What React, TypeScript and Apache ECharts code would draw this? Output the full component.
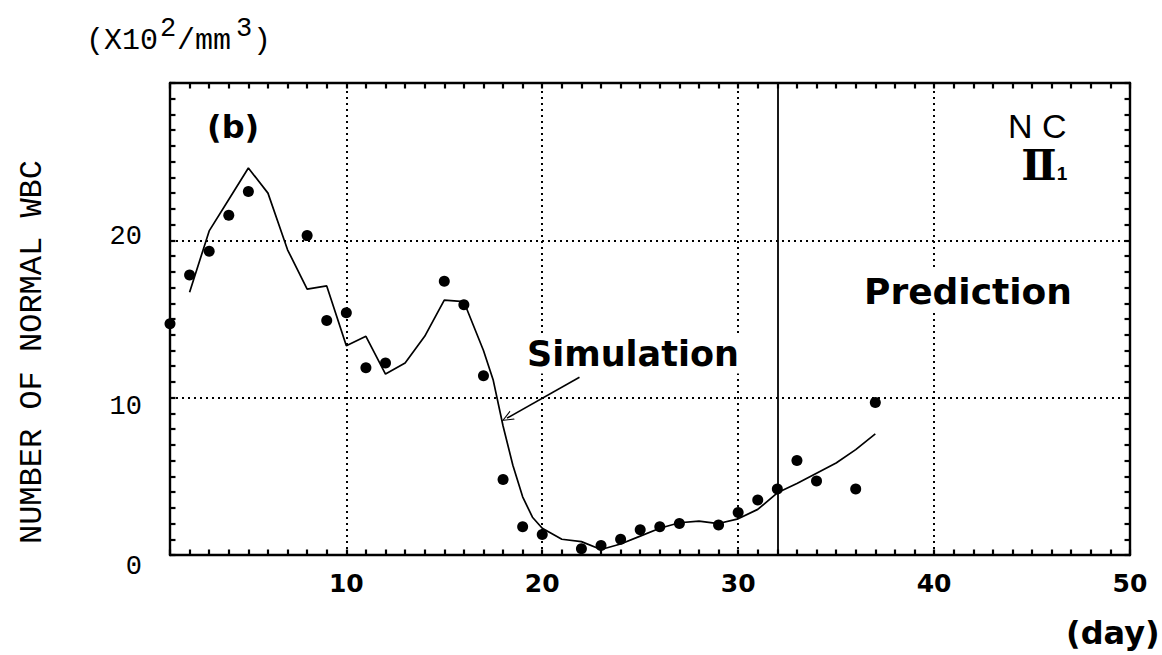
import React, { useEffect, useRef } from "react";
import * as echarts from "echarts";

// Observed counts of normal WBC (x10^2 / mm^3) by day
const obsDays = [1, 2, 3, 4, 5, 8, 9, 10, 11, 12, 15, 16, 17, 18, 19, 20, 22, 23, 24, 25, 26, 27, 29, 30, 31, 32, 33, 34, 36, 37];
const obsWbc = [14.7, 17.8, 19.3, 21.6, 23.1, 20.3, 14.9, 15.4, 11.9, 12.2, 17.4, 15.9, 11.4, 4.8, 1.8, 1.3, 0.4, 0.6, 1.0, 1.6, 1.8, 2.0, 1.9, 2.7, 3.5, 4.2, 6.0, 4.7, 4.2, 9.7];

// Simulated curve
const simDays = [2, 3, 4, 5, 6, 7, 8, 9, 10, 11, 12, 13, 14, 15, 16, 17, 17.5, 18, 18.5, 19, 19.5, 20, 21, 22, 23, 24, 25, 26, 27, 28, 29, 30, 31, 32, 33, 34, 35, 36, 37];
const simWbc = [16.7, 20.6, 22.6, 24.6, 23.0, 19.4, 16.9, 17.1, 13.3, 13.9, 11.5, 12.2, 13.9, 16.2, 16.1, 13.0, 11.1, 8.2, 5.7, 3.7, 2.4, 1.7, 1.0, 0.85, 0.35, 0.7, 1.2, 1.7, 2.05, 2.15, 2.0, 2.3, 2.9, 3.95, 4.55, 5.2, 5.85, 6.7, 7.7];

// Axes
const dayMin = 1;
const dayMax = 50;
const wbcMin = 0;
const wbcMax = 30;
const xTickLabels = [10, 20, 30, 40, 50];
const yTickLabels = [0, 10, 20];
const gridDays = [10, 20, 30, 40];
const gridLevels = [10, 20];
const predictionStart = 32;

// Arrow from the "Simulation" caption to the curve: [day, value]
const arrowFrom = [21.9, 11.3];
const arrowTo = [18.2, 8.7];

// Small inward ticks on all four sides: one per day and one per unit
const dayTicks: number[] = [];
for (let d = dayMin; d <= dayMax; d++) dayTicks.push(d);
const wbcTicks: number[] = [];
for (let v = wbcMin; v <= wbcMax; v++) wbcTicks.push(v);
const DAY_TICK_LEN = 0.35; // in value units (vertical ticks)
const WBC_TICK_LEN = 0.28; // in days (horizontal ticks)

const chevron = "path://M0,12 L5,0 L10,12 L8.8,12 L5,2.6 L1.2,12 Z";

export default function App() {
  const ref = useRef<HTMLDivElement>(null);

  useEffect(() => {
    if (!ref.current) return;
    const chart = echarts.init(ref.current, undefined, { renderer: "svg" });

    const frame = { show: true, onZero: false, lineStyle: { color: "#000", width: 2.4 } };
    const onlyListed = (list: number[]) => (v: number) => (list.indexOf(Math.round(v)) >= 0 ? String(Math.round(v)) : "");
    const yFont = { fontFamily: "Liberation Mono", fontSize: 27, color: "#000" };
    const seg = (a: number[], b: number[]) => [{ coord: a }, { coord: b }];

    const tickSegments = [
      ...dayTicks.map((d) => seg([d, wbcMin], [d, wbcMin + DAY_TICK_LEN])),
      ...dayTicks.map((d) => seg([d, wbcMax], [d, wbcMax - DAY_TICK_LEN])),
      ...wbcTicks.map((v) => seg([dayMin, v], [dayMin + WBC_TICK_LEN, v])),
      ...wbcTicks.map((v) => seg([dayMax, v], [dayMax - WBC_TICK_LEN, v])),
    ];

    const option: any = {
      animation: false,
      backgroundColor: "#fff",
      grid: { left: 170, right: 32, top: 83, bottom: 100 },
      xAxis: [
        {
          type: "value",
          min: dayMin,
          max: dayMax,
          interval: 1,
          position: "bottom",
          axisLine: frame,
          axisTick: { show: false },
          axisLabel: {
            formatter: onlyListed(xTickLabels),
            margin: 16,
            color: "#000",
            fontFamily: "DejaVu Sans",
            fontWeight: "bold",
            fontSize: 25,
          },
          splitLine: { show: false },
        },
        {
          type: "value",
          min: dayMin,
          max: dayMax,
          interval: 1,
          position: "top",
          axisLine: frame,
          axisTick: { show: false },
          axisLabel: { show: false },
          splitLine: { show: false },
        },
      ],
      yAxis: [
        {
          type: "value",
          min: wbcMin,
          max: wbcMax,
          interval: 1,
          position: "left",
          axisLine: frame,
          axisTick: { show: false },
          axisLabel: {
            formatter: (v: number) => {
              const r = Math.round(v);
              if (yTickLabels.indexOf(r) < 0) return "";
              const key = r === 0 ? "lo" : r === 10 ? "mid" : "hi";
              return "{" + key + "|" + r + "}";
            },
            margin: 28,
            ...yFont,
            rich: {
              lo: { ...yFont, padding: [24, 0, 0, 0] },
              mid: { ...yFont, padding: [18, 0, 0, 0] },
              hi: { ...yFont, padding: [0, 0, 7, 0] },
            },
          },
          splitLine: { show: false },
        },
        {
          type: "value",
          min: wbcMin,
          max: wbcMax,
          interval: 1,
          position: "right",
          axisLine: frame,
          axisTick: { show: false },
          axisLabel: { show: false },
          splitLine: { show: false },
        },
      ],
      series: [
        {
          name: "grid",
          type: "line",
          data: [],
          z: 1,
          silent: true,
          markLine: {
            silent: true,
            symbol: "none",
            label: { show: false },
            emphasis: { disabled: true },
            lineStyle: { color: "#000", width: 2, type: [2, 4] },
            data: [
              ...gridDays.map((d) => ({ xAxis: d })),
              ...gridLevels.map((v) => ({ yAxis: v })),
            ],
          },
        },
        {
          name: "ticks",
          type: "line",
          data: [],
          z: 6,
          silent: true,
          markLine: {
            silent: true,
            symbol: "none",
            label: { show: false },
            emphasis: { disabled: true },
            lineStyle: { color: "#000", width: 2.2, type: "solid" },
            data: tickSegments,
          },
        },
        {
          name: "Simulation",
          type: "line",
          data: simDays.map((d, i) => [d, simWbc[i]]),
          showSymbol: false,
          symbol: "none",
          z: 3,
          lineStyle: { color: "#000", width: 1.7 },
          markLine: {
            silent: true,
            label: { show: false },
            emphasis: { disabled: true },
            data: [
              [
                { xAxis: predictionStart, yAxis: wbcMin, symbol: "none", lineStyle: { color: "#000", width: 1.8, type: "solid" } },
                { xAxis: predictionStart, yAxis: wbcMax, symbol: "none" },
              ],
              [
                { coord: arrowFrom, symbol: "none", lineStyle: { color: "#000", width: 1.6, type: "solid" } },
                { coord: arrowTo, symbol: chevron, symbolSize: [10, 12] },
              ],
            ],
          },
        },
        {
          name: "Observed",
          type: "scatter",
          data: obsDays.map((d, i) => [d, obsWbc[i]]),
          symbol: "circle",
          symbolSize: 11,
          z: 4,
          itemStyle: { color: "#000", opacity: 1 },
        },
      ],
      graphic: [
        {
          type: "text",
          z: 10,
          x: 207,
          y: 127,
          style: { text: "(b)", fontFamily: "DejaVu Sans", fontWeight: "bold", fontSize: 32, fill: "#000", textVerticalAlign: "middle" },
        },
        {
          type: "text",
          z: 10,
          x: 527,
          y: 354,
          style: {
            text: "Simulation",
            fontFamily: "DejaVu Sans",
            fontWeight: "bold",
            fontSize: 35,
            fill: "#000",
            textVerticalAlign: "middle",
            backgroundColor: "#fff",
            padding: [2, 3, 2, 0],
          },
        },
        {
          type: "text",
          z: 10,
          x: 860,
          y: 291,
          style: {
            text: "Prediction",
            fontFamily: "DejaVu Sans",
            fontWeight: "bold",
            fontSize: 36,
            fill: "#000",
            textVerticalAlign: "middle",
            backgroundColor: "#fff",
            padding: [2, 4, 2, 4],
          },
        },
        {
          type: "text",
          z: 10,
          x: 1008,
          y: 126,
          style: { text: "N C", fontFamily: "Liberation Sans", fontSize: 34, fill: "#000", textVerticalAlign: "middle" },
        },
        {
          type: "text",
          z: 10,
          x: 1039,
          y: 165,
          style: { text: "Ⅱ", fontFamily: "DejaVu Serif", fontWeight: "bold", fontSize: 42, fill: "#000", textAlign: "center", textVerticalAlign: "middle" },
        },
        {
          type: "text",
          z: 10,
          x: 1062,
          y: 173,
          style: { text: "1", fontFamily: "Liberation Sans", fontWeight: "bold", fontSize: 19, fill: "#000", textAlign: "center", textVerticalAlign: "middle" },
        },
        {
          type: "text",
          z: 10,
          x: 1066,
          y: 633,
          style: { text: "(day)", fontFamily: "DejaVu Sans", fontWeight: "bold", fontSize: 32, fill: "#000", textVerticalAlign: "middle" },
        },
        {
          type: "text",
          z: 10,
          x: 32,
          y: 352,
          rotation: Math.PI / 2,
          style: {
            text: "NUMBER OF NORMAL WBC",
            fontFamily: "Liberation Mono",
            fontSize: 32,
            fill: "#000",
            textAlign: "center",
            textVerticalAlign: "middle",
          },
        },
        // unit: (X10^2/mm^3)
        {
          type: "group",
          z: 10,
          children: [
            { type: "text", x: 86, y: 41, style: { text: "(X10", fontFamily: "Liberation Mono", fontSize: 30, fill: "#000", textVerticalAlign: "middle" } },
            { type: "text", x: 160, y: 29, style: { text: "2", fontFamily: "Liberation Mono", fontSize: 27, fill: "#000", textVerticalAlign: "middle" } },
            { type: "text", x: 177, y: 41, style: { text: "/mm", fontFamily: "Liberation Mono", fontSize: 30, fill: "#000", textVerticalAlign: "middle" } },
            { type: "text", x: 236, y: 29, style: { text: "3", fontFamily: "Liberation Mono", fontSize: 27, fill: "#000", textVerticalAlign: "middle" } },
            { type: "text", x: 253, y: 41, style: { text: ")", fontFamily: "Liberation Mono", fontSize: 30, fill: "#000", textVerticalAlign: "middle" } },
          ],
        },
      ],
    };

    chart.setOption(option);
    return () => chart.dispose();
  }, []);

  return (
    <div
      ref={ref}
      style={{ position: "absolute", left: 0, top: 0, width: 1162, height: 655, background: "#fff" }}
    />
  );
}
